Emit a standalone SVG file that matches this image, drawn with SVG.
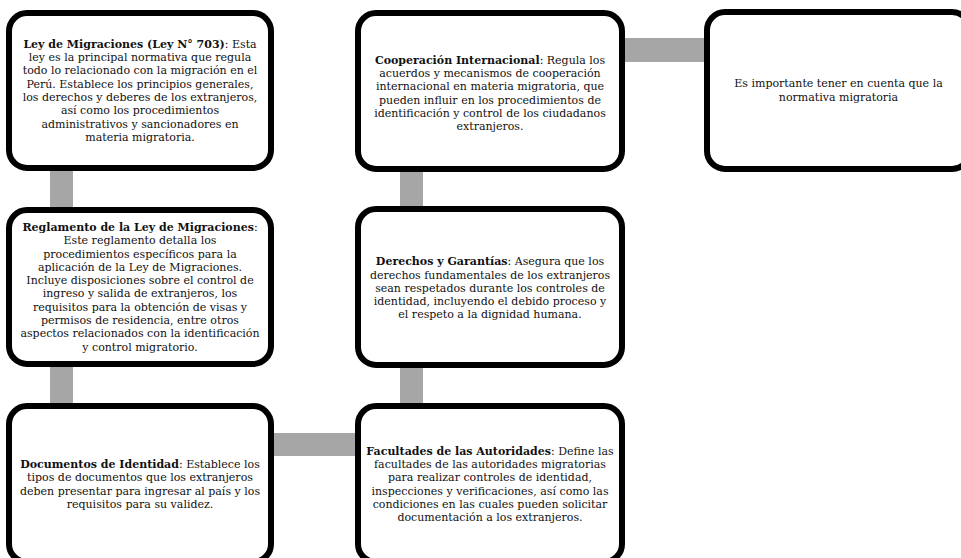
<svg xmlns="http://www.w3.org/2000/svg" width="961" height="558" viewBox="0 0 961 558">
<style>
.box{fill:#fff;stroke:#000;stroke-width:6}
.con{fill:#a6a6a6}
.t{font-family:"DejaVu Serif","Liberation Serif",serif;font-size:11px;fill:#111;text-anchor:middle}
.b{font-weight:bold}
</style>
<rect width="961" height="558" fill="#fff"/>
<g id="connectors">
<rect class="con" x="50" y="165" width="23" height="48"/>
<rect class="con" x="50" y="361" width="23" height="48"/>
<rect class="con" x="268" y="433" width="93" height="23"/>
<rect class="con" x="400" y="166" width="23" height="46"/>
<rect class="con" x="400" y="362" width="23" height="47"/>
<rect class="con" x="619" y="38" width="91" height="24"/>
</g>
<g id="ley">
<rect class="box" x="9" y="13" width="262" height="155" rx="18"/>
<text class="t"><tspan x="140" y="47.8"><tspan class="b">Ley de Migraciones (Ley N° 703)</tspan>: Esta</tspan><tspan x="140" y="61.1">ley es la principal normativa que regula</tspan><tspan x="140" y="74.4">todo lo relacionado con la migración en el</tspan><tspan x="140" y="87.7">Perú. Establece los principios generales,</tspan><tspan x="140" y="101">los derechos y deberes de los extranjeros,</tspan><tspan x="140" y="114.3">así como los procedimientos</tspan><tspan x="140" y="127.6">administrativos y sancionadores en</tspan><tspan x="140" y="140.9">materia migratoria.</tspan></text>
</g>
<g id="reglamento">
<rect class="box" x="9" y="210" width="262" height="154" rx="18"/>
<text class="t"><tspan x="140" y="230.9"><tspan class="b">Reglamento de la Ley de Migraciones</tspan>:</tspan><tspan x="140" y="244.2">Este reglamento detalla los</tspan><tspan x="140" y="257.5">procedimientos específicos para la</tspan><tspan x="140" y="270.8">aplicación de la Ley de Migraciones.</tspan><tspan x="140" y="284.1">Incluye disposiciones sobre el control de</tspan><tspan x="140" y="297.4">ingreso y salida de extranjeros, los</tspan><tspan x="140" y="310.7">requisitos para la obtención de visas y</tspan><tspan x="140" y="324">permisos de residencia, entre otros</tspan><tspan x="140" y="337.3">aspectos relacionados con la identificación</tspan><tspan x="140" y="350.6">y control migratorio.</tspan></text>
</g>
<g id="documentos">
<rect class="box" x="9" y="406" width="262" height="156" rx="18"/>
<text class="t"><tspan x="140" y="467.9"><tspan class="b">Documentos de Identidad</tspan>: Establece los</tspan><tspan x="140" y="481.2">tipos de documentos que los extranjeros</tspan><tspan x="140" y="494.5">deben presentar para ingresar al país y los</tspan><tspan x="140" y="507.8">requisitos para su validez.</tspan></text>
</g>
<g id="cooperacion">
<rect class="box" x="358" y="13" width="264" height="156" rx="18"/>
<text class="t"><tspan x="490" y="63.6"><tspan class="b">Cooperación Internacional</tspan>: Regula los</tspan><tspan x="490" y="76.9">acuerdos y mecanismos de cooperación</tspan><tspan x="490" y="90.2">internacional en materia migratoria, que</tspan><tspan x="490" y="103.5">pueden influir en los procedimientos de</tspan><tspan x="490" y="116.8">identificación y control de los ciudadanos</tspan><tspan x="490" y="130.1">extranjeros.</tspan></text>
</g>
<g id="derechos">
<rect class="box" x="358" y="209" width="264" height="156" rx="18"/>
<text class="t"><tspan x="490" y="265.2"><tspan class="b">Derechos y Garantías</tspan>: Asegura que los</tspan><tspan x="490" y="278.5">derechos fundamentales de los extranjeros</tspan><tspan x="490" y="291.8">sean respetados durante los controles de</tspan><tspan x="490" y="305.1">identidad, incluyendo el debido proceso y</tspan><tspan x="490" y="318.4">el respeto a la dignidad humana.</tspan></text>
</g>
<g id="facultades">
<rect class="box" x="358" y="406" width="264" height="156" rx="18"/>
<text class="t"><tspan x="490" y="454.6"><tspan class="b">Facultades de las Autoridades</tspan>: Define las</tspan><tspan x="490" y="467.9">facultades de las autoridades migratorias</tspan><tspan x="490" y="481.2">para realizar controles de identidad,</tspan><tspan x="490" y="494.5">inspecciones y verificaciones, así como las</tspan><tspan x="490" y="507.8">condiciones en las cuales pueden solicitar</tspan><tspan x="490" y="521.1">documentación a los extranjeros.</tspan></text>
</g>
<g id="importante">
<rect class="box" x="707" y="12" width="263" height="157" rx="18"/>
<text class="t"><tspan x="838.5" y="87">Es importante tener en cuenta que la</tspan><tspan x="838.5" y="100.5">normativa migratoria</tspan></text>
</g>
</svg>
